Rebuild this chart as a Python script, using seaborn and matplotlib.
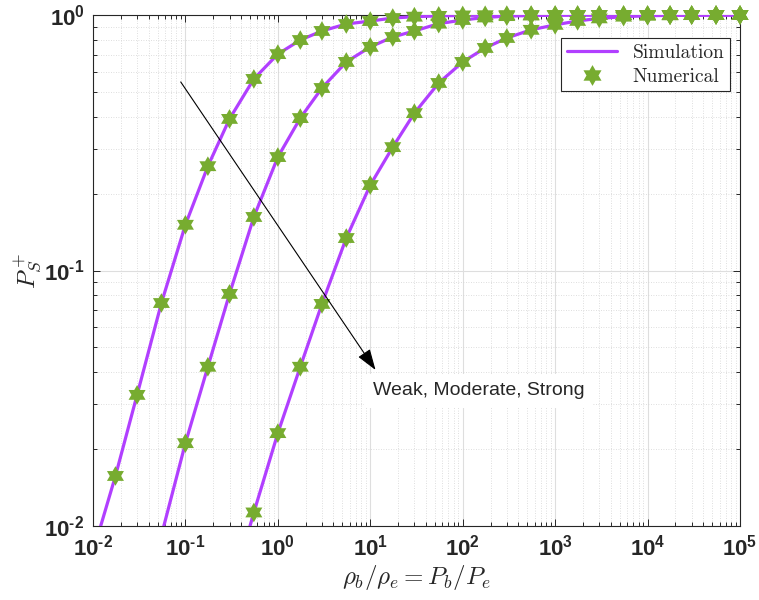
import numpy as np
import pandas as pd
import matplotlib
matplotlib.use("Agg")
import matplotlib.pyplot as plt
import seaborn as sns
from matplotlib.lines import Line2D
from matplotlib.path import Path

# P_b / P_e  (rho_b / rho_e), log spaced
x_ratio = [0.01, 0.0175, 0.03, 0.055,
           0.1, 0.175, 0.3, 0.55,
           1, 1.75, 3, 5.5,
           10, 17.5, 30, 55,
           100, 175, 300, 550,
           1e3, 1.75e3, 3e3, 5.5e3,
           1e4, 1.75e4, 3e4, 5.5e4,
           1e5]

# P_S^+ for the three fading cases
weak = [0.0079, 0.0157, 0.0326, 0.0746,
        0.151, 0.256, 0.392, 0.562,
        0.703, 0.798, 0.866, 0.922,
        0.947, 0.973, 0.985, 0.992,
        0.996, 0.998, 0.999, 1.0,
        1.0, 1.0, 1.0, 1.0,
        1.0, 1.0, 1.0, 1.0,
        1.0]
moderate = [0.0010, 0.0020, 0.0042, 0.0092,
            0.0211, 0.042, 0.081, 0.162,
            0.278, 0.395, 0.518, 0.655,
            0.75, 0.82, 0.866, 0.925,
            0.956, 0.978, 0.99, 0.995,
            0.998, 0.999, 1.0, 1.0,
            1.0, 1.0, 1.0, 1.0,
            1.0]
strong = [0.00007, 0.00015, 0.0003, 0.0006,
          0.0013, 0.0027, 0.0052, 0.0113,
          0.0231, 0.042, 0.074, 0.134,
          0.216, 0.304, 0.413, 0.542,
          0.655, 0.743, 0.813, 0.875,
          0.915, 0.948, 0.97, 0.985,
          0.993, 0.997, 0.999, 1.0,
          1.0]
curve_names = ["Weak", "Moderate", "Strong"]

x_ticks = [1e-2, 1e-1, 1e0, 1e1, 1e2, 1e3, 1e4, 1e5]
x_ticklabels = ["-2", "-1", "0", "1", "2", "3", "4", "5"]
y_ticks = [1e-2, 1e-1, 1e0]
y_ticklabels = ["-2", "-1", "0"]

purple = "#B13FFF"
green = "#77AC30"
dark = "#262626"

sns.set_style("white")
# tick labels: bold sans (MATLAB look); axis labels use the cm fontset
plt.rcParams["mathtext.fontset"] = "custom"
plt.rcParams["mathtext.rm"] = "Liberation Sans:bold"
plt.rcParams["mathtext.bf"] = "Liberation Sans:bold"
plt.rcParams["mathtext.it"] = "Liberation Sans:bold:italic"


def pow10(e):
    # 10^{e} with a plain hyphen, as MATLAB draws it
    return r"$\mathrm{10}^{\text{%s}}$" % e


df = pd.DataFrame({
    "x": x_ratio * 3,
    "y": weak + moderate + strong,
    "curve": np.repeat(curve_names, len(x_ratio)),
})
# markers below the axis are not shown (MATLAB clips them)
df_num = df[df["y"] >= 0.01]

# hexagram marker
ang = np.pi / 2 + np.arange(13) * np.pi / 6
rad = np.where(np.arange(13) % 2 == 0, 1.0, 1 / np.sqrt(3))
hexagram = Path(np.column_stack([rad * np.cos(ang), rad * np.sin(ang)]), closed=True)

fig = plt.figure(figsize=(7.59, 6.0), dpi=100)
ax = fig.add_axes([0.1225, 0.1233, 0.8525, 0.8517])

sns.lineplot(data=df, x="x", y="y", hue="curve", palette=[purple] * 3,
             estimator=None, sort=True, lw=2.3, legend=False, ax=ax, zorder=3)
sns.scatterplot(data=df_num, x="x", y="y", color=green, marker=hexagram,
                s=200, edgecolor="none", linewidth=0, legend=False, ax=ax,
                zorder=4, clip_on=False)

ax.set_xscale("log")
ax.set_yscale("log")
ax.set_xlim(1e-2, 1e5)
ax.set_ylim(1e-2, 1)

ax.set_xticks(x_ticks, [pow10(e) for e in x_ticklabels], fontsize=16,
              fontweight="bold", fontfamily="Liberation Sans", color=dark)
ax.set_yticks(y_ticks, [pow10(e) for e in y_ticklabels], fontsize=16,
              fontweight="bold", fontfamily="Liberation Sans", color=dark)
ax.tick_params(which="both", direction="in", top=True, right=True,
               bottom=True, left=True, color=dark, width=0.7)
ax.tick_params(which="major", length=5, pad=6)
ax.tick_params(which="minor", length=3)

ax.grid(which="major", color="#dedede", lw=0.8, ls="-")
ax.grid(which="minor", color="#d4d4d4", lw=0.6, ls=(0, (1, 2)))
ax.set_axisbelow(True)
for sp in ax.spines.values():
    sp.set_color(dark)
    sp.set_linewidth(0.8)

ax.set_xlabel(r"$\rho_b/\rho_e = P_b/P_e$", fontsize=18, labelpad=2,
              color=dark, math_fontfamily="cm")
ax.set_ylabel(r"$P_S^+$", fontsize=18, labelpad=0, color=dark,
              math_fontfamily="cm")

handles = [
    Line2D([], [], color=purple, lw=2.3),
    Line2D([], [], color=green, marker=hexagram, ms=15, ls="none", mec="none"),
]
leg = ax.legend(handles, ["Simulation", "Numerical"], loc="upper right",
                bbox_to_anchor=(0.985, 0.955), borderaxespad=0,
                prop={"family": "cmr10", "size": 14}, frameon=True,
                fancybox=False, edgecolor=dark, framealpha=1,
                handlelength=2.6, borderpad=0.3, labelspacing=0.3)
leg.get_frame().set_linewidth(0.8)
leg.set_zorder(6)

ax.annotate("", xy=(11.4, 0.0408), xytext=(0.089, 0.547),
            arrowprops=dict(arrowstyle="-|>,head_length=0.65,head_width=0.22",
                            color="black", lw=0.8, mutation_scale=20,
                            shrinkA=0, shrinkB=0), zorder=7)
ax.text(148, 0.0338, "Weak, Moderate, Strong", ha="center", va="center",
        fontsize=14, fontfamily="Liberation Sans", zorder=5,
        bbox=dict(facecolor="white", edgecolor="none", pad=6))

fig.savefig("out.png", dpi=100)
